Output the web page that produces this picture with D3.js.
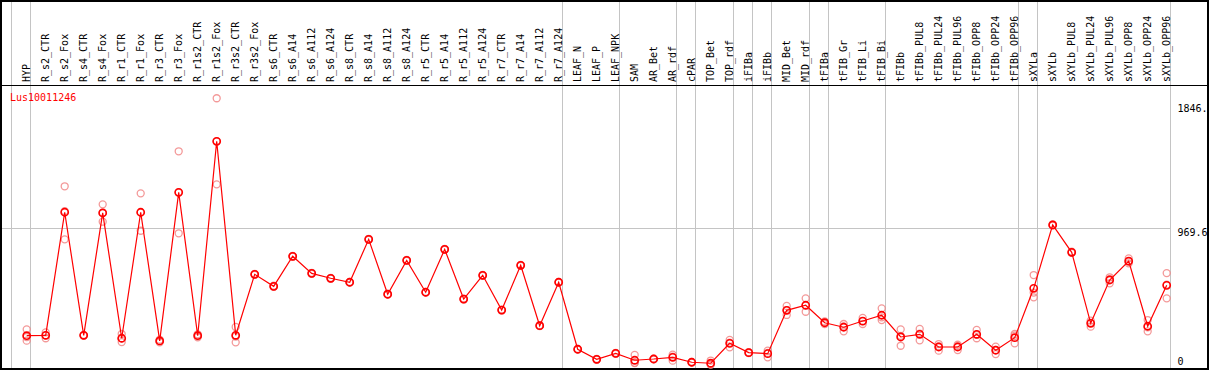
<!DOCTYPE html>
<html>
<head>
<meta charset="utf-8">
<script src="https://cdn.jsdelivr.net/npm/d3@7"></script>
<style>
  body { margin: 0; background: #fff; }
  text { font-family: "DejaVu Sans Mono", monospace; font-size: 10px; }
</style>
</head>
<body>
<script>
  var title = "Lus10011246";
  var categories = ["HYP","R_s2_CTR","R_s2_Fox","R_s4_CTR","R_s4_Fox","R_r1_CTR","R_r1_Fox","R_r3_CTR","R_r3_Fox",
    "R_r1s2_CTR","R_r1s2_Fox","R_r3s2_CTR","R_r3s2_Fox","R_s6_CTR","R_s6_A14","R_s6_A112","R_s6_A124",
    "R_s8_CTR","R_s8_A14","R_s8_A112","R_s8_A124","R_r5_CTR","R_r5_A14","R_r5_A112","R_r5_A124",
    "R_r7_CTR","R_r7_A14","R_r7_A112","R_r7_A124","LEAF_N","LEAF_P","LEAF_NPK","SAM","AR_Bet","AR_rdf",
    "cPAR","TOP_Bet","TOP_rdf","iFIBa","iFIBb","MID_Bet","MID_rdf","tFIBa","tFIB_Gr","tFIB_Li","tFIB_Bi",
    "tFIBb","tFIBb_PUL8","tFIBb_PUL24","tFIBb_PUL96","tFIBb_OPP8","tFIBb_OPP24","tFIBb_OPP96",
    "sXYLa","sXYLb","sXYLb_PUL8","sXYLb_PUL24","sXYLb_PUL96","sXYLb_OPP8","sXYLb_OPP24","sXYLb_OPP96"];

  var means = [204,207,1079,207,1074,186,1079,167,1220,204,1582,207,639,554,767,646,611,583,887,498,738,
    512,816,464,632,386,703,275,583,108,37,79,30,39,51,16,9,150,84,77,384,420,296,264,308,349,
    195,214,124,124,214,101,190,540,989,795,292,599,733,271,561];

  var rep1 = [249,228,1263,210,1135,216,1213,176,1511,214,1887,266,642,558,770,650,614,586,891,501,741,
    515,819,467,635,389,706,278,586,111,40,82,68,42,70,19,28,174,87,98,415,469,305,287,330,398,
    249,252,145,140,245,126,216,634,993,799,311,618,752,315,648];
  var rep2 = [169,186,887,205,1012,159,948,157,930,193,1277,157,636,550,764,642,608,580,883,495,735,
    509,813,461,629,383,700,272,580,105,34,76,12,36,27,13,0,122,81,51,351,374,287,235,287,315,
    133,171,98,102,186,74,150,476,985,791,268,575,717,235,469];
  var rep3 = [195,207,1087,206,1075,183,1076,167,1219,205,1582,198,639,554,767,646,611,583,887,498,738,
    512,816,464,632,386,703,275,583,108,37,79,10,39,56,16,0,154,84,82,386,417,296,270,307,334,
    203,219,129,130,211,103,204,510,989,795,297,604,730,263,566];

  // separator lines sit after these column indices
  var groupEnds = [-1,0,28,31,34,35,37,38,39,41,42,45,52,53,60];
  var yTicks = [0, 969.6, 1846.9];
  var yTickLabels = ["0", "969.6", "1846."];
  var gridValues = [969.6];

  var W = 1209, H = 370;
  var svg = d3.select("body").append("svg")
    .attr("width", W).attr("height", H)
    .attr("shape-rendering", "crispEdges");

  var x = d3.scaleLinear().domain([0, categories.length - 1]).range([26.7, 1166.7]);
  var y = d3.scaleLinear().domain([0, 1846.9]).range([364.5, 103.9]);

  // vertical separators
  svg.selectAll("line.vgrid")
    .data(groupEnds)
    .enter().append("line")
    .attr("class", "vgrid")
    .attr("x1", function(d) { return Math.round(x(d) + 3.5) + 0.5; })
    .attr("x2", function(d) { return Math.round(x(d) + 3.5) + 0.5; })
    .attr("y1", 0).attr("y2", 369)
    .attr("stroke", "#c4c4c4");

  // horizontal grid
  svg.selectAll("line.hgrid")
    .data(gridValues)
    .enter().append("line")
    .attr("class", "hgrid")
    .attr("x1", 1).attr("x2", Math.round(x(60) + 4))
    .attr("y1", function(d) { return Math.round(y(d)) + 0.5; })
    .attr("y2", function(d) { return Math.round(y(d)) + 0.5; })
    .attr("stroke", "#c4c4c4");

  // frame + header line
  svg.append("rect")
    .attr("x", 1).attr("y", 1).attr("width", 1207).attr("height", 368)
    .attr("fill", "none").attr("stroke", "#000").attr("stroke-width", 2);
  svg.append("line")
    .attr("x1", 0).attr("x2", W).attr("y1", 85.5).attr("y2", 85.5)
    .attr("stroke", "#000").attr("stroke-width", 1.5);

  // column labels
  svg.selectAll("text.cat")
    .data(categories)
    .enter().append("text")
    .attr("class", "cat")
    .attr("transform", function(d, i) { return "translate(" + x(i) + ",82) rotate(-90)"; })
    .attr("dy", "0.36em")
    .attr("fill", "#000")
    .text(function(d) { return d; });

  // title
  svg.append("text")
    .attr("x", 10).attr("y", 100.5)
    .attr("fill", "#ff0000")
    .text(title);

  // y labels
  svg.selectAll("text.ytick")
    .data(yTicks)
    .enter().append("text")
    .attr("class", "ytick")
    .attr("x", 1177.5)
    .attr("y", function(d) { return d === 0 ? y(d) : y(d) + 0.5; })
    .attr("dy", function(d) { return d === 0 ? "0" : "0.76em"; })
    .attr("fill", "#000")
    .text(function(d, i) { return yTickLabels[i]; });

  // replicate points
  var reps = [rep1, rep2, rep3];
  reps.forEach(function(r) {
    svg.append("g").selectAll("circle")
      .data(r)
      .enter().append("circle")
      .attr("cx", function(d, i) { return x(i); })
      .attr("cy", function(d) { return y(d); })
      .attr("r", 3.5)
      .attr("fill", "none")
      .attr("stroke", "#f08080")
      .attr("stroke-opacity", 0.8)
      .attr("stroke-width", 1.3)
      .attr("shape-rendering", "auto");
  });

  // mean line
  var line = d3.line()
    .x(function(d, i) { return x(i); })
    .y(function(d) { return y(d); });
  svg.append("path")
    .datum(means)
    .attr("d", line)
    .attr("fill", "none")
    .attr("stroke", "#ff0000")
    .attr("stroke-width", 1.2)
    .attr("shape-rendering", "auto");

  svg.append("g").selectAll("circle")
    .data(means)
    .enter().append("circle")
    .attr("cx", function(d, i) { return x(i); })
    .attr("cy", function(d) { return y(d); })
    .attr("r", 3.6)
    .attr("fill", "none")
    .attr("stroke", "#ff0000")
    .attr("stroke-width", 1.6)
    .attr("shape-rendering", "auto");
</script>
</body>
</html>
